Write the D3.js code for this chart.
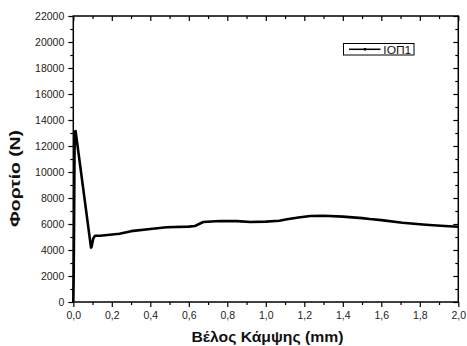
<!DOCTYPE html>
<html><head><meta charset="utf-8">
<script src="https://cdn.jsdelivr.net/npm/d3@7"></script>
<style>
html,body{margin:0;padding:0;background:#fff;}
svg{display:block;font-family:"Liberation Sans",Arial,sans-serif;}
</style></head>
<body>
<svg id="chart" width="467" height="346"></svg>
<script>
const deflection = [0, 0.002, 0.004, 0.006, 0.008, 0.012, 0.092, 0.095, 0.104, 0.113, 0.14, 0.24, 0.3, 0.4, 0.485, 0.6, 0.632, 0.675, 0.76, 0.85, 0.92, 1.0, 1.07, 1.11, 1.17, 1.23, 1.3, 1.4, 1.5, 1.54, 1.6, 1.71, 1.8, 1.85, 1.93, 2.0];
const load = [0, 2000, 6000, 11000, 13100, 13150, 4180, 4250, 4900, 5100, 5100, 5250, 5450, 5610, 5750, 5800, 5850, 6150, 6230, 6220, 6150, 6180, 6250, 6360, 6500, 6620, 6640, 6570, 6450, 6380, 6300, 6100, 5975, 5920, 5850, 5790];
const xTicks = [0, 0.2, 0.4, 0.6, 0.8, 1.0, 1.2, 1.4, 1.6, 1.8, 2.0];
const xMinor = [0.1, 0.3, 0.5, 0.7, 0.9, 1.1, 1.3, 1.5, 1.7, 1.9];
const yTicks = [0, 2000, 4000, 6000, 8000, 10000, 12000, 14000, 16000, 18000, 20000, 22000];
const yMinor = [1000, 3000, 5000, 7000, 9000, 11000, 13000, 15000, 17000, 19000, 21000];
const seriesName = "ΙΟΠ1";
const xTitle = "Βέλος Κάμψης (mm)";
const yTitle = "Φορτίο (N)";

const svg = d3.select("#chart");
const L = 73.3, R = 458.3, T = 16, B = 302;
const x = d3.scaleLinear().domain([0, 2]).range([L, R]);
const y = d3.scaleLinear().domain([0, 22000]).range([B, T]);
const fmt = d => d3.format(".1f")(d).replace(".", ",");

function styleAxis(g){
  g.select(".domain").remove();
  g.selectAll("line").attr("stroke","#000").attr("stroke-width",1.2);
  g.selectAll("text").attr("fill","#222").style("font-size","10.5px");
}
// bottom
svg.append("g").attr("transform",`translate(0,${B})`)
  .call(d3.axisBottom(x).tickValues(xTicks).tickFormat(fmt).tickSize(5).tickPadding(5))
  .call(styleAxis);
svg.append("g").attr("transform",`translate(0,${B})`)
  .call(d3.axisBottom(x).tickValues(xMinor).tickFormat("").tickSize(3))
  .call(styleAxis);
// top (inward)
svg.append("g").attr("transform",`translate(0,${T})`)
  .call(d3.axisBottom(x).tickValues(xTicks).tickFormat("").tickSize(5))
  .call(styleAxis);
svg.append("g").attr("transform",`translate(0,${T})`)
  .call(d3.axisBottom(x).tickValues(xMinor).tickFormat("").tickSize(3))
  .call(styleAxis);
// left
svg.append("g").attr("transform",`translate(${L},0)`)
  .call(d3.axisLeft(y).tickValues(yTicks).tickFormat(d3.format("d")).tickSize(5).tickPadding(4))
  .call(styleAxis);
svg.append("g").attr("transform",`translate(${L},0)`)
  .call(d3.axisLeft(y).tickValues(yMinor).tickFormat("").tickSize(3))
  .call(styleAxis);
// right (inward)
svg.append("g").attr("transform",`translate(${R},0)`)
  .call(d3.axisLeft(y).tickValues(yTicks).tickFormat("").tickSize(5))
  .call(styleAxis);
svg.append("g").attr("transform",`translate(${R},0)`)
  .call(d3.axisLeft(y).tickValues(yMinor).tickFormat("").tickSize(3))
  .call(styleAxis);

// frame
svg.append("rect").attr("x",L).attr("y",T).attr("width",R-L).attr("height",B-T)
  .attr("fill","none").attr("stroke","#000").attr("stroke-width",1.5);

// curve
const data = deflection.map((d,i)=>[d, load[i]]);
svg.append("path").datum(data)
  .attr("fill","none").attr("stroke","#000").attr("stroke-width",2.6)
  .attr("stroke-linejoin","round")
  .attr("d", d3.line().x(d=>x(d[0])).y(d=>y(d[1])));

// titles
svg.append("text").attr("x",191.5).attr("y",342)
  .attr("textLength",152).attr("lengthAdjust","spacingAndGlyphs")
  .style("font-size","15.5px").style("font-weight","bold").attr("fill","#111").text(xTitle);
svg.append("text").attr("transform",`translate(19.8,227) rotate(-90)`)
  .attr("textLength",97).attr("lengthAdjust","spacingAndGlyphs")
  .style("font-size","15.5px").style("font-weight","bold").attr("fill","#111").text(yTitle);

// legend
const lg = svg.append("g");
lg.append("rect").attr("x",343.5).attr("y",43.5).attr("width",70.5).attr("height",11.5)
  .attr("fill","#fff").attr("stroke","#000").attr("stroke-width",1);
lg.append("line").attr("x1",349).attr("x2",380.5).attr("y1",49.3).attr("y2",49.3)
  .attr("stroke","#000").attr("stroke-width",1.5);
lg.append("circle").attr("cx",365).attr("cy",49.3).attr("r",1.4).attr("fill","#000");
lg.append("text").attr("x",383.3).attr("y",53.5)
  .attr("textLength",28).attr("lengthAdjust","spacingAndGlyphs")
  .style("font-size","10.5px").attr("fill","#111").text(seriesName);
</script>
</body></html>
